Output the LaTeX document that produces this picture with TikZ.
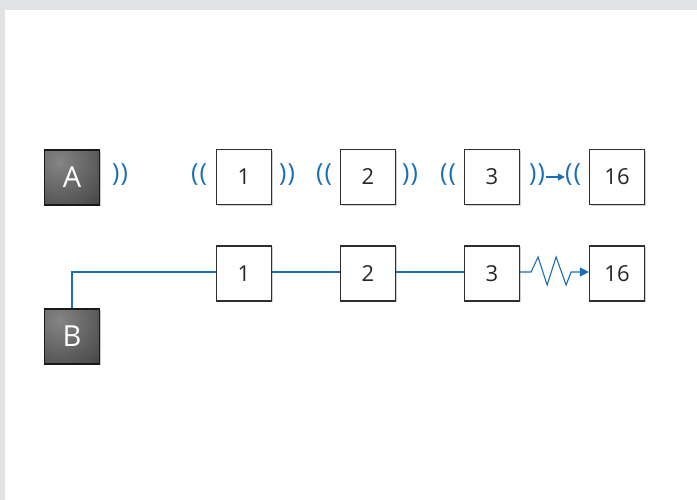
\documentclass[tikz,border=0pt]{standalone}
\usepackage{fontspec}
\setmainfont{Open Sans}
\usetikzlibrary{arrows.meta,shadows}
\definecolor{frame}{HTML}{E2E3E5}
\definecolor{wire}{HTML}{1A6FB5}
\definecolor{edge}{HTML}{2E2E2E}
\begin{document}
\begin{tikzpicture}[x=1pt,y=-1pt,
  wbox/.style={draw=edge,line width=1.2pt,fill=white,minimum size=55pt,inner sep=0pt,
    font=\fontsize{22}{22}\selectfont,text=black!85,
    drop shadow={shadow xshift=1.2pt,shadow yshift=-1.2pt,fill=black,opacity=0.18}},
  dbox/.style={draw=black!90,line width=1.2pt,minimum size=55pt,inner sep=0pt,
    font=\fontsize{29}{29}\selectfont,text=white,fill=black!72,
    path picture={\shade[inner color=black!48,outer color=black!72]
      ([shift={(15pt,-12pt)}]path picture bounding box.north west) circle (56pt);},
    drop shadow={shadow xshift=1.2pt,shadow yshift=-1.2pt,fill=black,opacity=0.2}},
  par/.style={inner sep=0pt,text=wire,font=\fontsize{25}{25}\selectfont},
  wireline/.style={draw=wire,line width=1.1pt}]
\useasboundingbox (0,0) rectangle (697,500);
\fill[frame] (0,0) rectangle (697,500);
\fill[white] (5,10) rectangle (697,500);
% top row
\node[dbox] (A) at (72,177.5) {A};
\node[wbox] (t1) at (244,177) {1};
\node[wbox] (t2) at (368,177) {2};
\node[wbox] (t3) at (492,177) {3};
\node[wbox] (t16) at (617,177) {16};
\node[par] (pa) at (120,175) {)\kern1pt)};
\node[par] (p1l) at (199,175) {(\kern1pt(};
\node[par] (p1r) at (287,175) {)\kern1pt)};
\node[par] (p2l) at (324,175) {(\kern1pt(};
\node[par] (p2r) at (410,175) {)\kern1pt)};
\node[par] (p3l) at (448,175) {(\kern1pt(};
\node[par] (p3r) at (537,175) {)\kern1pt)};
\node[par] (p16l) at (573,175) {(\kern1pt(};
\draw[wireline,-{Triangle[length=7pt,width=7pt]}] (p3r.east|-0,177) ++(1,0) coordinate (ar1) -- (p16l.west|-0,177);
% bottom row
\node[wbox] (b1) at (244,273.5) {1};
\node[wbox] (b2) at (368,273.5) {2};
\node[wbox] (b3) at (492,273.5) {3};
\node[wbox] (b16) at (617,273.5) {16};
\node[dbox] (B) at (72,336.5) {B};
\draw[wireline] (B.north) |- (b1.west|-0,272);
\draw[wireline] (b1.east|-0,272) -- (b2.west|-0,272);
\draw[wireline] (b2.east|-0,272) -- (b3.west|-0,272);
\draw[wireline,line join=miter,-{Triangle[length=9pt,width=9pt]}] (b3.east|-0,272) -- ++(11,0) -- ++(7,-15) -- ++(9,28) -- ++(9,-28) -- ++(10,28) -- ++(5,-13) -- (b16.west|-0,272);
\end{tikzpicture}
\end{document}
